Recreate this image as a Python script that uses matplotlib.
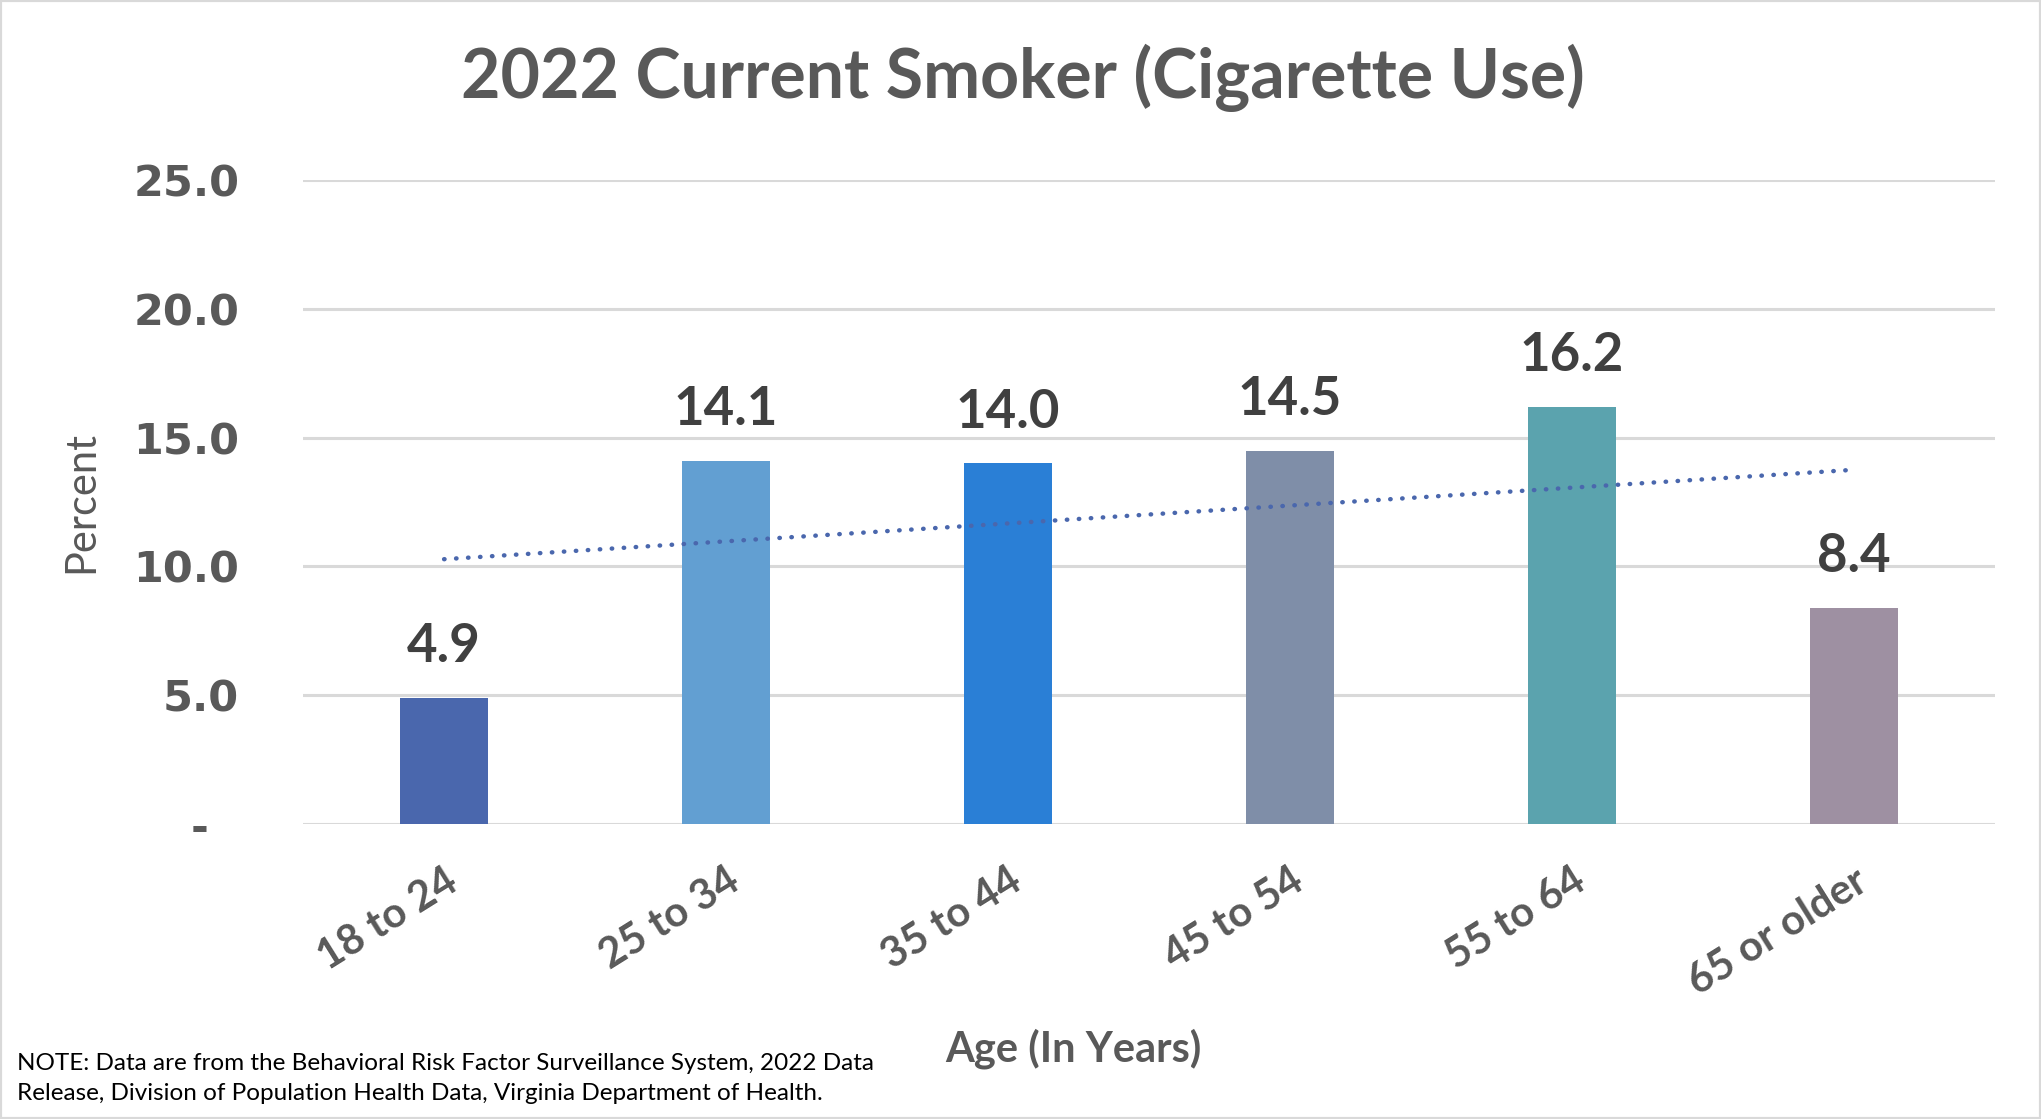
import numpy as np
import matplotlib.pyplot as plt
from matplotlib.patches import Rectangle

# data
age_groups = ['18 to 24', '25 to 34', '35 to 44', '45 to 54', '55 to 64', '65 or older']
smoker_pct = [4.9, 14.1, 14.0, 14.5, 16.2, 8.4]
bar_colors = ['#4A67AD', '#629FD2', '#2A7FD6', '#7F8EA8', '#5BA3AE', '#9E90A2']
y_ticks = [0, 5, 10, 15, 20, 25]
y_tick_labels = ['-  ', '5.0', '10.0', '15.0', '20.0', '25.0']

note = ('NOTE: Data are from the Behavioral Risk Factor Surveillance System, 2022 Data\n'
        'Release, Division of Population Health Data, Virginia Department of Health.')

GRAY = '#595959'
plt.rcParams['font.family'] = ['Lato', 'DejaVu Sans']

fig = plt.figure(figsize=(20.41, 11.19), dpi=100)
ax = fig.add_axes([0.1485, 0.2636, 0.829, 0.5755])

x = np.arange(len(age_groups))
ax.bar(x, smoker_pct, width=0.314, color=bar_colors, zorder=3)

# linear trendline, like Excel's
slope, intercept = np.polyfit(x, smoker_pct, 1)
ax.plot(x, slope * x + intercept, color='#4A67AD', lw=3.2,
        linestyle=(0, (0.1, 2.6)), dash_capstyle='round', zorder=4)

for xi, v in zip(x, smoker_pct):
    ax.annotate(f'{v:.1f}', (xi, v), xytext=(0, 19), textcoords='offset points',
                ha='center', va='bottom', fontsize=38, fontweight='bold', color='#404040')

ax.set_xlim(-0.5, len(age_groups) - 0.5)
ax.set_ylim(0, 25)
ax.set_yticks(y_ticks)
ax.set_yticklabels(y_tick_labels, fontsize=31, fontweight='bold', color=GRAY,
                   family='DejaVu Sans')
ax.set_xticks(x)
ax.set_xticklabels(age_groups, rotation=32, ha='right', rotation_mode='anchor',
                   fontsize=30, fontweight='bold', color=GRAY)
ax.tick_params(axis='both', length=0)
ax.tick_params(axis='y', pad=46)
ax.tick_params(axis='x', pad=27)

ax.grid(axis='y', color='#D9D9D9', lw=2.2, zorder=0)
for s in ax.spines.values():
    s.set_visible(False)

ax.set_ylabel('Percent', fontsize=30, color=GRAY, labelpad=24)
fig.text(0.526, 0.0625, 'Age (In Years)', ha='center', va='center',
         fontsize=30, fontweight='bold', color=GRAY)
fig.suptitle('2022 Current Smoker (Cigarette Use)', x=0.501, y=0.93, va='center',
             fontsize=49, fontweight='bold', color=GRAY)
fig.text(0.0085, 0.036, note, ha='left', va='center', fontsize=17.5,
         color='black', linespacing=1.5)

fig.add_artist(Rectangle((0, 0), 1, 1, transform=fig.transFigure, fill=False,
                         edgecolor='#D9D9D9', lw=3))

fig.savefig('out.png', dpi=100)
